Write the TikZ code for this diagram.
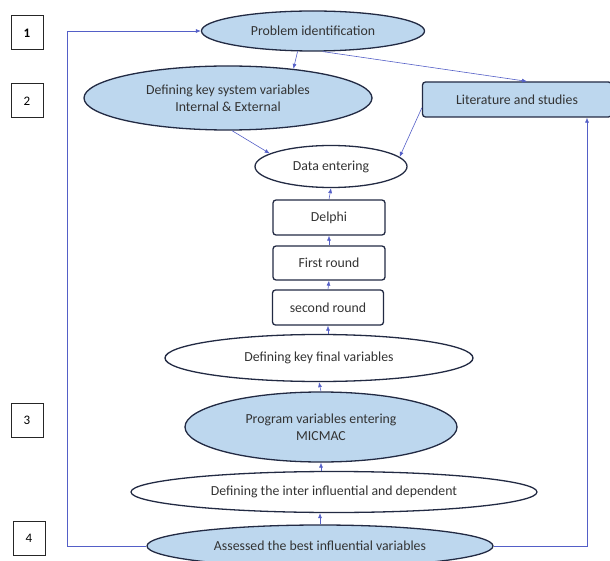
\documentclass[tikz,border=0pt]{standalone}
\usepackage{fontspec}
\setmainfont{Carlito}
\usetikzlibrary{shapes.geometric,arrows.meta}
\newlength{\du}
\setlength{\du}{1pt}
\definecolor{stepfill}{rgb}{0.741176, 0.843137, 0.933333}
\definecolor{stepline}{rgb}{0.133333, 0.164706, 0.262745}
\definecolor{flowline}{rgb}{0.329412, 0.372549, 0.780392}
\definecolor{textgray}{rgb}{0.200000, 0.200000, 0.200000}
\tikzset{
  stage/.style={ellipse, draw=stepline, line width=1.3\du, inner sep=0pt,
    align=center, text=textgray, font=\fontsize{13.8}{17}\selectfont},
  bluestage/.style={stage, fill=stepfill},
  roundbox/.style={rectangle, rounded corners=3\du, draw=stepline, line width=1.3\du,
    inner sep=0pt, align=center, text=textgray, font=\fontsize{13.8}{17}\selectfont},
  numbox/.style={rectangle, draw=black!85, line width=1\du, minimum width=32\du,
    minimum height=34\du, inner sep=0pt, font=\fontsize{13}{15}\selectfont},
  flow/.style={draw=flowline, line width=0.6\du, -{Latex[length=5pt,width=4pt]}}
}
\begin{document}
\begin{tikzpicture}
\pgftransformxscale{1.000000}
\pgftransformyscale{-1.000000}
\useasboundingbox (0\du,0\du) rectangle (610\du,561\du);
% step numbers
\node[numbox] (num1) at (27\du,33\du){\textbf{1}};
\node[numbox] (num2) at (27\du,101\du){2};
\node[numbox] (num3) at (27\du,420\du){3};
\node[numbox] (num4) at (29\du,538\du){4};
% upper part
\node[bluestage, minimum width=223\du, minimum height=40\du] (prob) at (313\du,31\du){Problem identification};
\node[bluestage, minimum width=288\du, minimum height=64\du] (defkey) at (228\du,98\du){Defining key system variables\\Internal \& External};
\node[roundbox, fill=stepfill, minimum width=189\du, minimum height=35\du] (lit) at (517\du,99.5\du){Literature and studies};
\node[stage, minimum width=152\du, minimum height=42\du] (data) at (331\du,166.5\du){Data entering};
% delphi rounds
\node[roundbox, minimum width=112\du, minimum height=35\du] (delphi) at (329\du,217.5\du){Delphi};
\node[roundbox, minimum width=112\du, minimum height=34\du] (first) at (329\du,263\du){First round};
\node[roundbox, minimum width=111\du, minimum height=35\du] (second) at (328\du,307.5\du){second round};
% lower part
\node[stage, minimum width=308\du, minimum height=47\du] (final) at (319\du,358\du){Defining key final variables};
\node[bluestage, minimum width=272\du, minimum height=70\du] (prog) at (321\du,427\du){Program variables entering\\MICMAC};
\node[stage, minimum width=406\du, minimum height=41\du] (inter) at (334\du,492\du){Defining the inter influential and dependent};
\node[bluestage, minimum width=346\du, minimum height=42\du] (best) at (320\du,546\du){Assessed the best influential variables};
\coordinate (lcorner) at (67\du,546\du);
\coordinate (rcorner) at (587\du,546\du);
% connectors
\draw[flow] (prob.233) -- (defkey.24);
\draw[flow] (prob.295) -- ([xshift=10\du]lit.north);
\draw[flow] ([xshift=4\du]defkey.south) -- (data.168);
\draw[flow] (lit.185) -- (data.8);
\draw[flow] (delphi.north) -- (data.south);
\draw[flow] (first.north) -- (delphi.south);
\draw[flow] (second.north) -- (first.south);
\draw[flow] (second.south |- final.north) -- (second.south);
\draw[flow] (prog.north) -- (final.south);
\draw[flow] (prog.south |- inter.north) -- (prog.south);
\draw[flow] (best.north) -- (best.north |- inter.south);
\draw[flow] (best.west) -- (lcorner) |- (prob.west);
\draw[flow] (best.east) -- (rcorner) -- (rcorner |- lit.south);
\end{tikzpicture}
\end{document}
